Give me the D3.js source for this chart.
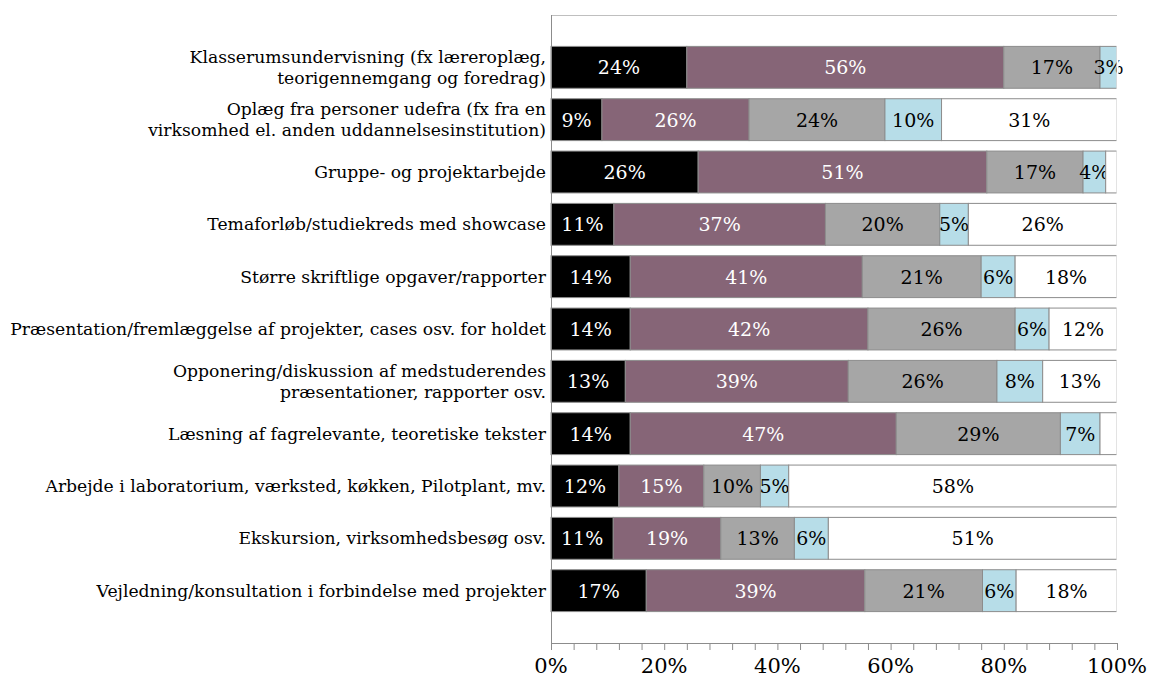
<!DOCTYPE html>
<html>
<head>
<meta charset="utf-8">
<script src="https://cdn.jsdelivr.net/npm/d3@7"></script>
<style>
  body { margin: 0; background: #fff; }
  svg { display: block; font-family: "DejaVu Serif", "Liberation Serif", serif; }
</style>
</head>
<body>
<svg id="chart" width="1153" height="679"></svg>
<script>
// categories (top to bottom), "\n" marks a line break in the label
const categories = [
  "Klasserumsundervisning (fx læreroplæg,\nteorigennemgang og foredrag)",
  "Oplæg fra personer udefra (fx fra en\nvirksomhed el. anden uddannelsesinstitution)",
  "Gruppe- og projektarbejde",
  "Temaforløb/studiekreds med showcase",
  "Større skriftlige opgaver/rapporter",
  "Præsentation/fremlæggelse af projekter, cases osv. for holdet",
  "Opponering/diskussion af medstuderendes\npræsentationer, rapporter osv.",
  "Læsning af fagrelevante, teoretiske tekster",
  "Arbejde i laboratorium, værksted, køkken, Pilotplant, mv.",
  "Ekskursion, virksomhedsbesøg osv.",
  "Vejledning/konsultation i forbindelse med projekter"
];

// five answer groups, percentages per category
const series1 = [24, 9, 26, 11, 14, 14, 13, 14, 12, 11, 17];
const series2 = [56, 26, 51, 37, 41, 42, 39, 47, 15, 19, 39];
const series3 = [17, 24, 17, 20, 21, 26, 26, 29, 10, 13, 21];
const series4 = [3, 10, 4, 5, 6, 6, 8, 7, 5, 6, 6];
const series5 = [0, 31, 2, 26, 18, 12, 13, 3, 58, 51, 18];

const seriesKeys = ["s1", "s2", "s3", "s4", "s5"];
const seriesColors = ["#000000", "#866577", "#a6a6a6", "#b7dde8", "#ffffff"];
const labelColors = ["#ffffff", "#ffffff", "#000000", "#000000", "#000000"];

const xTicks = [0, 0.2, 0.4, 0.6, 0.8, 1];

const rows = categories.map((c, i) => ({
  cat: c,
  s1: series1[i], s2: series2[i], s3: series3[i], s4: series4[i], s5: series5[i]
}));

const svg = d3.select("#chart");
const plotL = 551, plotR = 1117, plotT = 15, plotB = 643;

const x = d3.scaleLinear().domain([0, 1]).range([plotL, plotR]);
const y = d3.scaleBand()
  .domain(categories)
  .range([plotT, plotB])
  .paddingInner(0.2)
  .paddingOuter(0.6);

const stacked = d3.stack()
  .keys(seriesKeys)
  .offset(d3.stackOffsetExpand)(rows);

// top border line
svg.append("line")
  .attr("x1", plotL).attr("x2", plotR)
  .attr("y1", plotT + 0.5).attr("y2", plotT + 0.5)
  .attr("stroke", "#bfbfbf").attr("stroke-width", 1);

// bars
stacked.forEach((layer, si) => {
  const g = svg.append("g");
  g.selectAll("rect")
    .data(layer)
    .join("rect")
    .attr("x", d => x(d[0]))
    .attr("y", d => y(d.data.cat))
    .attr("width", d => x(d[1]) - x(d[0]))
    .attr("height", y.bandwidth())
    .attr("fill", seriesColors[si])
    .attr("stroke", "#8c8c8c")
    .attr("stroke-width", 1);

  g.selectAll("text")
    .data(layer.filter(d => (si < 4 ? d.data[seriesKeys[si]] >= 3 : d.data[seriesKeys[si]] >= 5)))
    .join("text")
    .attr("x", d => (x(d[0]) + x(d[1])) / 2)
    .attr("y", d => y(d.data.cat) + y.bandwidth() / 2)
    .attr("text-anchor", "middle")
    .attr("dominant-baseline", "central")
    .style("font-size", "19px")
    .style("fill", labelColors[si])
    .text(d => d.data[seriesKeys[si]] + "%");
});

// white segments have no right edge in the original, so cover it
svg.append("line")
  .attr("x1", plotR + 0.5).attr("x2", plotR + 0.5)
  .attr("y1", plotT + 2).attr("y2", plotB - 2)
  .attr("stroke", "#ffffff").attr("stroke-width", 2);

// category labels
const catG = svg.append("g");
categories.forEach(c => {
  const lines = c.split("\n");
  const cy = y(c) + y.bandwidth() / 2;
  const t = catG.append("text")
    .attr("x", plotL - 5)
    .attr("y", cy)
    .attr("text-anchor", "end")
    .style("font-size", "17.2px")
    .style("fill", "#000");
  lines.forEach((ln, i) => {
    t.append("tspan")
      .attr("x", plotL - 5)
      .attr("y", cy + (i - (lines.length - 1) / 2) * 21)
      .attr("dominant-baseline", "central")
      .text(ln);
  });
});

// vertical axis line
svg.append("line")
  .attr("x1", plotL + 0.5).attr("x2", plotL + 0.5)
  .attr("y1", plotT).attr("y2", plotB)
  .attr("stroke", "#8c8c8c");

// x axis with minor ticks every 4%
const axisG = svg.append("g").attr("transform", `translate(0,${plotB})`);
axisG.call(d3.axisBottom(x).tickValues(d3.range(0, 1.0001, 0.04)).tickSize(7).tickFormat(""))
  .attr("font-family", null)
  .attr("font-size", null)
  .call(g => g.select(".domain").attr("stroke", "#8c8c8c"))
  .call(g => g.selectAll(".tick line").attr("stroke", "#8c8c8c"));

axisG.selectAll(".lbl")
  .data(xTicks)
  .join("text")
  .attr("x", d => x(d))
  .attr("y", 30)
  .attr("text-anchor", "middle")
  .style("font-size", "21px")
  .style("fill", "#000")
  .text(d => d3.format(".0%")(d));
</script>
</body>
</html>
